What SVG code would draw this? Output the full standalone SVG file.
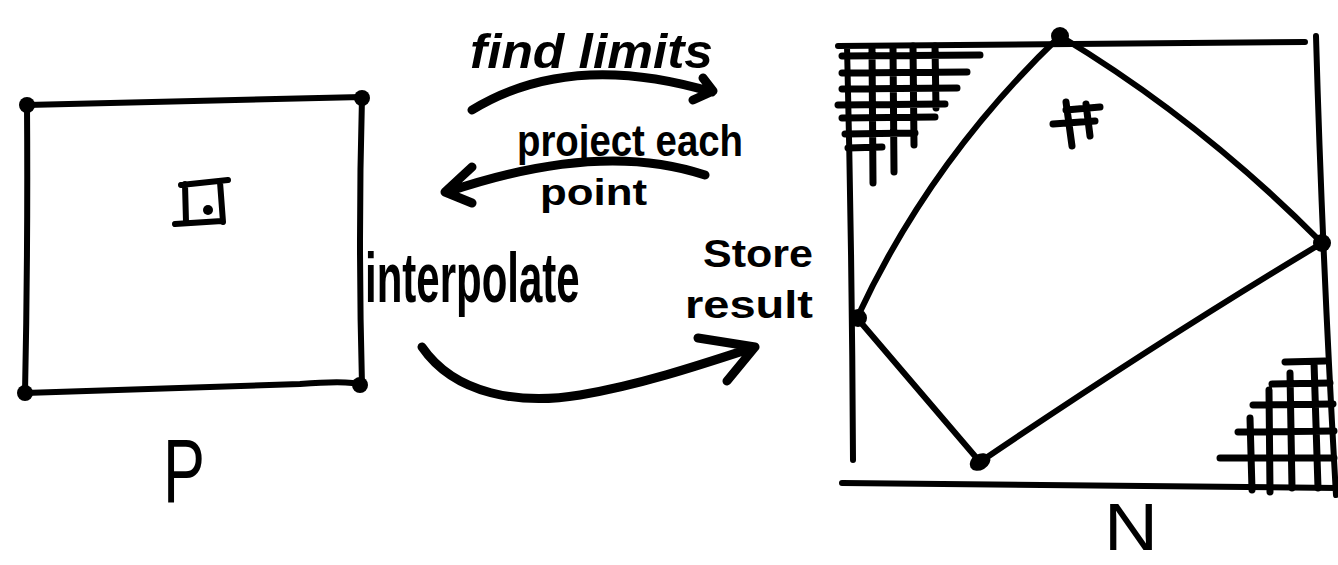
<svg xmlns="http://www.w3.org/2000/svg" width="1338" height="565" viewBox="0 0 1338 565">
<style>
.ln{fill:none;stroke:#000;stroke-width:6;stroke-linecap:round;stroke-linejoin:round}
.th{fill:none;stroke:#000;stroke-width:9;stroke-linecap:round;stroke-linejoin:round}
.gr{fill:none;stroke:#000;stroke-width:7;stroke-linecap:round}
.dot{fill:#000}
.hand{font-family:"Liberation Sans",Arial,sans-serif;fill:#000}
.mk{font-family:"Liberation Sans",Arial,sans-serif;font-weight:bold;fill:#000}
</style>
<rect width="1338" height="565" fill="#fff"/>
<g id="nodeP">
<path class="ln" d="M27,105 L362,97 Q358,240 362,385 Q350,380 300,384 L25,393 Q28,250 27,105 Z"/>
<circle class="dot" cx="27" cy="105" r="8"/>
<circle class="dot" cx="362" cy="98" r="8"/>
<circle class="dot" cx="360" cy="385" r="8"/>
<circle class="dot" cx="25" cy="393" r="8"/>
<path class="ln" d="M181,185 L228,180 M185,184 L186,222 M175,224 L222,221 M220,182 L223,222"/>
<circle class="dot" cx="208" cy="210" r="5"/>
<text class="hand" x="163" y="502" font-size="90" textLength="42" lengthAdjust="spacingAndGlyphs">P</text>
</g>
<g id="nodeN">
<path class="ln" d="M838,46 L1305,42 M1316,36 Q1322,250 1336,495 M847,46 Q852,250 853,460 M842,483 L1337,488"/>
<path class="ln" d="M857,318 Q930,160 1060,36 Q1200,120 1322,243 Q1160,340 980,462 L857,318"/>
<circle class="dot" cx="1060" cy="36" r="9"/>
<circle class="dot" cx="1322" cy="243" r="9"/>
<circle class="dot" cx="858" cy="318" r="9"/>
<ellipse class="dot" cx="980" cy="462" rx="11" ry="8" transform="rotate(-30 980 462)"/>
<path class="gr" d="M872,48 L873,183 M893,47 L894,172 M913,46 L914,145 M935,46 L936,108 M842,56 L980,55 M842,73 L967,72 M842,89 L957,88 M838,105 L945,104 M842,118 L935,117 M845,134 L915,133 M848,148 L882,147"/>
<path class="gr" d="M1250,418 L1252,490 M1269,390 L1270,492 M1290,373 L1292,488 M1314,362 L1318,488 M1285,362 L1325,361 M1272,384 L1330,383 M1253,405 L1333,404 M1238,432 L1334,431 M1220,458 L1334,458"/>
<path class="gr" d="M1066,110 L1100,107 M1053,124 L1095,121 M1066,102 L1072,146 M1086,104 L1090,136"/>
<text class="hand" x="1104" y="550" font-size="66" textLength="54" lengthAdjust="spacingAndGlyphs">N</text>
</g>
<g id="connectors">
<path class="th" d="M472,110 Q570,50 712,92 M703,78 L713,91 L693,100"/>
<path class="th" d="M705,175 Q600,140 447,192 M472,167 L445,192 L472,203"/>
<path class="th" stroke-width="10" d="M422,347 C455,395 520,405 580,395 S700,365 755,347 M698,338 L755,347 L727,381"/>
</g>
<g id="labels">
<text class="hand" font-style="italic" font-weight="bold" x="470" y="68" font-size="48" textLength="243" lengthAdjust="spacingAndGlyphs">find limits</text>
<text class="mk" x="517" y="156" font-size="44" textLength="226" lengthAdjust="spacingAndGlyphs">project each</text>
<text class="mk" x="540" y="205" font-size="36" textLength="107" lengthAdjust="spacingAndGlyphs">point</text>
<text class="mk" transform="translate(365,302) scale(0.6,1)" x="0" y="0" font-size="70">interpolate</text>
<text class="mk" x="703" y="267" font-size="38" textLength="110" lengthAdjust="spacingAndGlyphs">Store</text>
<text class="mk" x="685" y="318" font-size="38" textLength="128" lengthAdjust="spacingAndGlyphs">result</text>
</g>
</svg>
